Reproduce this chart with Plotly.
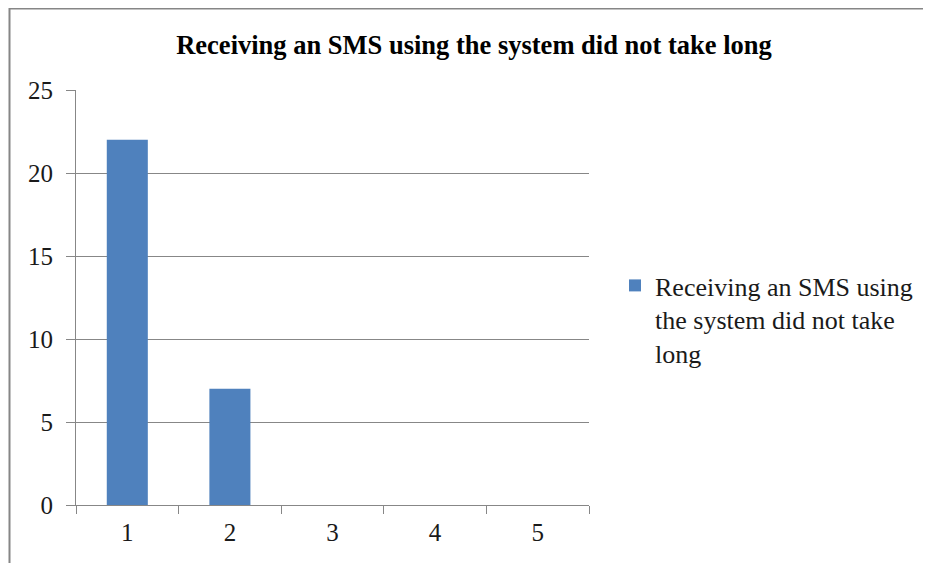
import plotly.graph_objects as go

categories = ["1", "2", "3", "4", "5"]
values = [22, 7, 0, 0, 0]
series_name = "Receiving an SMS using<br>the system did not take<br>long"
title_text = "Receiving an SMS using the system did not take long"

# page has an 8px body margin; work in figure coordinates
OFF = 8
W, H = 931 - OFF, 563 - OFF
L, R, T, B = 76 - OFF, 589 - OFF, 90 - OFF, 505 - OFF
pw, ph = R - L, B - T

fig = go.Figure()
fig.add_trace(go.Bar(
    x=categories, y=values, name=series_name, width=0.4,
    marker=dict(color="#4F81BD", line=dict(width=0)),
    showlegend=True,
))

font_family = "Liberation Serif, Times New Roman, serif"
fig.update_layout(
    width=W, height=H,
    margin=dict(l=L, r=W - R, t=T, b=H - B, pad=0, autoexpand=False),
    paper_bgcolor="white", plot_bgcolor="white",
    font=dict(family=font_family, size=25, color="#1a1a1a"),
    title=dict(text="<b>" + title_text + "</b>", x=(474 - OFF) / W, xref="container",
               xanchor="center", y=1 - (45 - OFF) / H, yref="container", yanchor="middle",
               font=dict(family=font_family, size=26.5, color="black")),
    showlegend=True,
    legend=dict(x=(615 - OFF - L) / pw, xanchor="left", y=(B - (262 - OFF)) / ph, yanchor="top",
                valign="top",
                font=dict(family=font_family, size=26, color="#1a1a1a"),
                bgcolor="rgba(0,0,0,0)", itemwidth=30, tracegroupgap=0),
)
fig.update_xaxes(
    type="category", tickson="boundaries", ticks="outside", ticklen=8,
    tickcolor="#878787", showline=True, linecolor="#878787", linewidth=1,
    showgrid=False, tickfont=dict(family=font_family, size=25), ticklabelstandoff=5,
    automargin=False,
)
fig.update_yaxes(
    range=[0, 25], dtick=5, ticks="outside", ticklen=9, tickcolor="#878787",
    showline=True, linecolor="#878787", linewidth=1,
    showgrid=True, gridcolor="#878787", gridwidth=1, zeroline=False,
    tickfont=dict(family=font_family, size=25), ticklabelstandoff=8,
    automargin=False,
)
# outer chart frame (left and top edges visible)
fig.add_shape(type="rect", xref="paper", yref="paper",
              x0=(1.5 - L) / pw, x1=(W + 20 - L) / pw, y0=(B - (H + 20)) / ph, y1=(B - 0.5) / ph,
              line=dict(color="#868686", width=2), fillcolor="rgba(0,0,0,0)", layer="below")

fig.write_html("out.html")
